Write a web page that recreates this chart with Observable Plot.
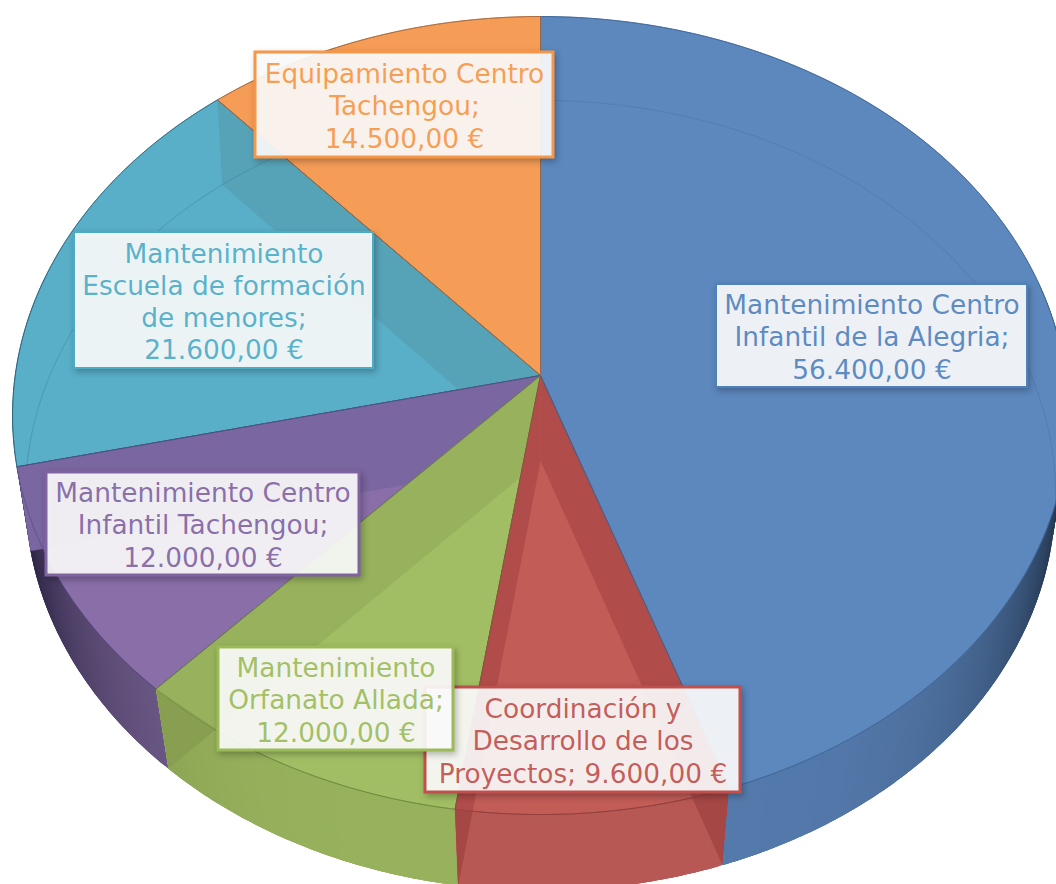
<!DOCTYPE html>
<html><head><meta charset="utf-8">
<script src="https://cdn.jsdelivr.net/npm/d3@7"></script>
<script src="https://cdn.jsdelivr.net/npm/@observablehq/plot@0.6"></script>
<style>
html,body{margin:0;padding:0;background:#fff;overflow:hidden}
svg{display:block}
g[aria-label="rect"] rect{filter:drop-shadow(2px 3px 3px rgba(0,0,0,.28))}
</style></head><body>
<script>
// ---- data ----
const categories = [
  "Mantenimiento Centro\nInfantil de la Alegria",
  "Coordinación y\nDesarrollo de los\nProyectos",
  "Mantenimiento\nOrfanato Allada",
  "Mantenimiento Centro\nInfantil Tachengou",
  "Mantenimiento\nEscuela de formación\nde menores",
  "Equipamiento Centro\nTachengou"
];
const values = [56400, 9600, 12000, 12000, 21600, 14500];
const valueBreaks = ["\n", " ", "\n", "\n", "\n", "\n"];

// ---- styles, by slice ----
const textColors = ["#4f81bd", "#c0504d", "#9bbb59", "#8064a2", "#4bacc6", "#f79646"];
const topColors  = ["#5c88be", "#c25c57", "#a2be64", "#896ea8", "#59aec8", "#f59c57"];
const wallColors = [null, "#b04c4a", "#97b15c", "#7a66a0", "#56a3b8", null];
const wallOnSide = [null, "#a54745", "#889f52", null, null, null];
const sideColors = ["#547aac", "#b85854", "#97b15c", "#75608f", "#56a3b8", "#e08c4e"];
const sideDark   = ["#1b2a3f", "#6e2f2d", "#4a5a2b", "#1c1733", "#27505c", "#6e4522"];
const edgeColors = ["#3f6699", "#8f3f3c", "#71893f", "#55457a", "#2f6a80", "#a8693a"];
const boxStroke  = [2, 3, 3, 3, 2, 3];

// ---- label layout (pixels) ----
const boxX1 = [716, 425, 218, 46, 74, 255];
const boxX2 = [1027, 740, 453, 359, 373, 553];
const boxY1 = [284, 687, 647, 472, 232, 52];
const boxY2 = [387, 792, 750, 575, 368, 157];
const boxOrder = [0, 1, 2, 3, 4, 5];

// ---- perspective of the top and bottom faces of the pie ----
const topFace = {cx: 540, cy: 375, a: 525.3, b: 395, p: -0.1003};
const botFace = {cx: 540, cy: 460, a: 513, b: 392, p: -0.0886};
const project = (f, t) => {
  const u = Math.sin(t), v = -Math.cos(t), d = 1 + f.p * v;
  return [f.cx + f.a * u / d, f.cy + f.b * v / d];
};

const total = d3.sum(values);
const cum = d3.cumsum(values);
const angle = i => (i < 0 ? 0 : cum[i] / total * 2 * Math.PI);
const arc = (f, t0, t1) => {
  const n = Math.max(2, Math.ceil((t1 - t0) / 0.01));
  return d3.range(n + 1).map(k => project(f, t0 + (t1 - t0) * k / n));
};
const topOutline = arc(topFace, 0, 2 * Math.PI);

const rows = [];
let uid = 0;
const addPoly = (pts, fill, stroke, sw) => {
  const id = uid++;
  [...pts, pts[0]].forEach(([x, y]) => rows.push({id, x, y, fill, stroke, sw}));
};
const lineRows = [];
const addLine = (pts, stroke, sw, op) => {
  const id = uid++;
  pts.forEach(([x, y]) => lineRows.push({id, x, y, stroke, sw, op}));
};

const drawOrder = [4, 3, 2, 1, 0, 5];
const wedges = values.map((_, i) =>
  [[topFace.cx, topFace.cy], ...arc(topFace, angle(i - 1), angle(i))]);

for (const i of drawOrder) {
  const t0 = angle(i - 1), t1 = angle(i);
  // rim, in overlapping strips shaded toward the sides; the far rim is hidden
  const step = Math.PI / 360;
  for (let t = t0; t < t1 - 1e-6; t += step) {
    if (Math.cos(t) > 0.25) continue;
    const e = Math.min(t + step * 3, t1);
    const shade = Math.pow(Math.abs(Math.sin(t + step / 2)), 5);
    const c = d3.interpolateRgb(sideColors[i], sideDark[i])(shade * 0.95);
    addPoly([...arc(topFace, t, e), ...arc(botFace, t, e).reverse()], c, "none", 0);
  }
  // top face
  addPoly(wedges[i], topColors[i], edgeColors[i], 0.9);
  // walls seen through the face: slice's own spokes whose wall falls inside it
  const apexTop = [topFace.cx, topFace.cy], apexBot = [botFace.cx, botFace.cy];
  const wall = t => [apexTop, project(topFace, t), project(botFace, t), apexBot];
  const wallDrawn = i === 1 ? [t0, t1] : [t1];
  if (wallColors[i]) for (const t of wallDrawn) {
    addPoly(wall(t), wallColors[i], wallColors[i], 0.2);
    if (wallOnSide[i]) {
      // the part of the wall that lies below the edge of the top face
      const R = project(topFace, t), B = project(botFace, t);
      const along = d3.range(0, 1.001, 0.002).map(k => [B[0] + (apexBot[0] - B[0]) * k, B[1] + (apexBot[1] - B[1]) * k]);
      const X = along.find(p => d3.polygonContains(topOutline, p));
      addPoly([R, B, X], wallOnSide[i], "none", 0);
    }
  }
}
// far edge of the bottom face, seen through the back slices
for (const i of [4, 5, 0]) {
  const pts = arc(botFace, -Math.PI * 0.7, Math.PI * 0.55).filter(p => d3.polygonContains(wedges[i], p));
  addLine(pts, edgeColors[i], 0.8, 0.4);
}
// re-stroke of face outlines over the walls
for (const i of drawOrder) addLine([...wedges[i], wedges[i][0]], edgeColors[i], 0.8, 0.7);

const euro = d3.formatLocale({decimal: ",", thousands: ".", grouping: [3], currency: ["", ""]}).format(",.2f");
const labels = values.map((v, i) => ({
  i,
  x1: boxX1[i], x2: boxX2[i], y1: boxY1[i], y2: boxY2[i],
  cx: (boxX1[i] + boxX2[i]) / 2, cy: (boxY1[i] + boxY2[i]) / 2,
  color: textColors[i],
  text: `${categories[i]};${valueBreaks[i]}${euro(v)} €`
}));

const plot = Plot.plot({
  width: 1056, height: 884, margin: 0,
  style: {background: "transparent", overflow: "hidden"},
  x: {domain: [0, 1056], range: [0, 1056], axis: null},
  y: {domain: [0, 884], range: [0, 884], axis: null},
  color: {type: "identity"},
  marks: [
    Plot.line(rows, {x: "x", y: "y", z: "id", fill: "fill", stroke: "stroke", strokeWidth: "sw", strokeLinejoin: "round"}),
    Plot.line(lineRows, {x: "x", y: "y", z: "id", stroke: "stroke", strokeWidth: "sw", strokeOpacity: "op", fill: "none"}),
    ...boxOrder.map(i => [
      Plot.rect([labels[i]], {x1: "x1", x2: "x2", y1: "y1", y2: "y2", fill: "#fff", fillOpacity: 0.9, stroke: "color", strokeWidth: boxStroke[i]}),
      Plot.text([labels[i]], {x: "cx", y: "cy", text: "text", fill: "color", fillOpacity: 0.92, fontFamily: "'DejaVu Sans', sans-serif", fontSize: 26.4, lineHeight: 1.22, textAnchor: "middle", lineAnchor: "middle"})
    ]).flat()
  ]
});
document.body.appendChild(plot);
</script>
</body></html>
